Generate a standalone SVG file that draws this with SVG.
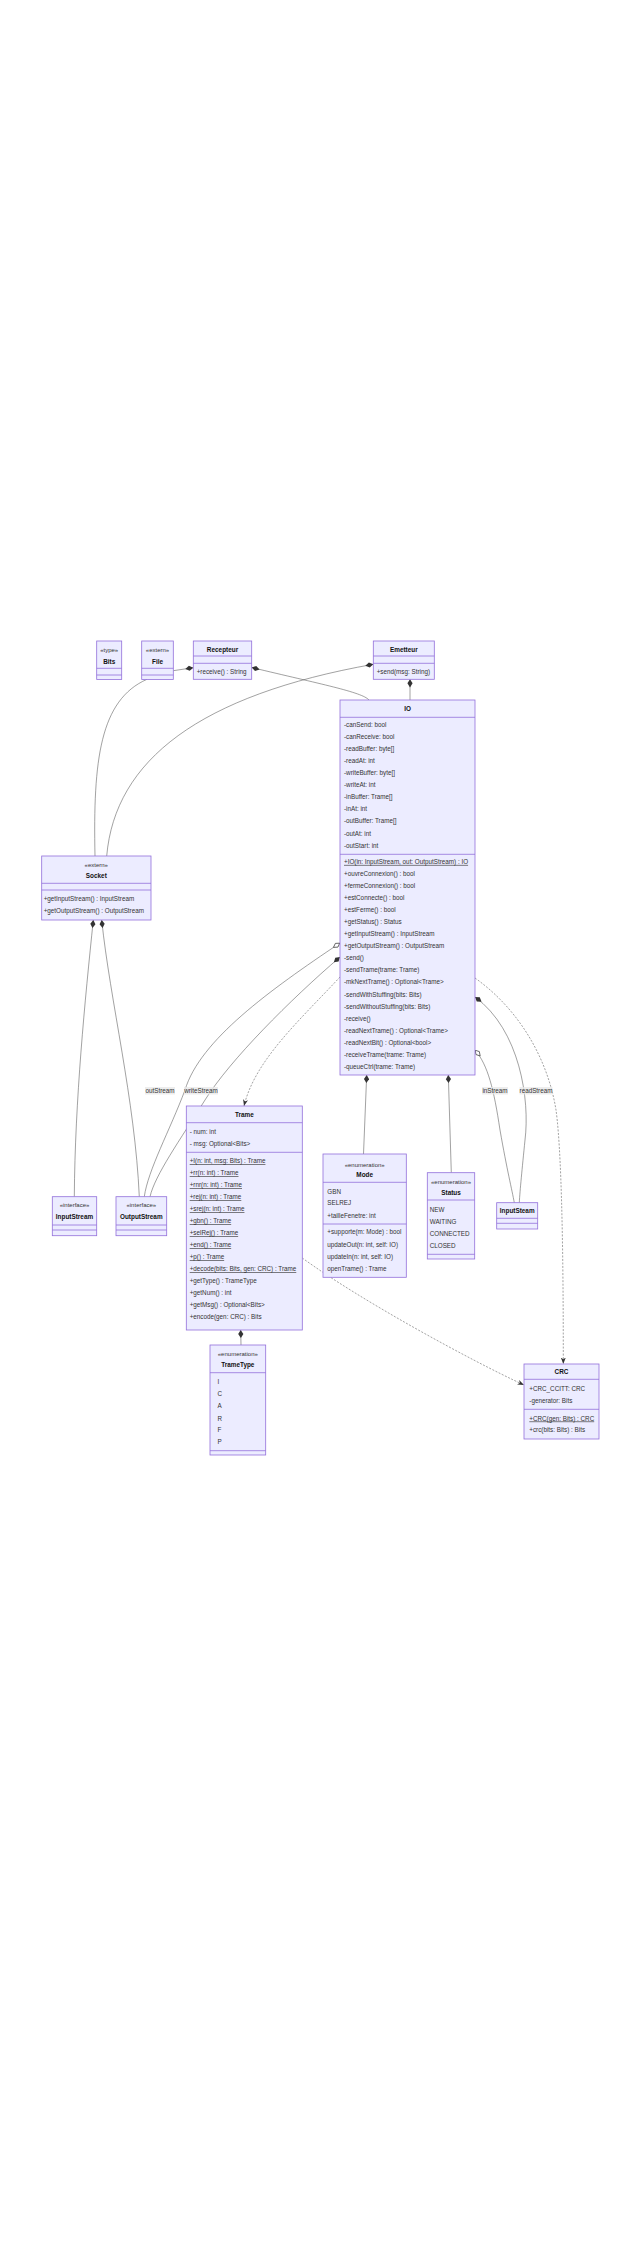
<svg xmlns="http://www.w3.org/2000/svg" width="640" height="2254" viewBox="0 0 640 2254">
<style>
.bg{fill:#fff}
.box{fill:#ECECFF;stroke:#9370DB;stroke-width:0.8}
.dv{stroke:#9370DB;stroke-width:0.8}
text{font-family:"Liberation Sans",Arial,sans-serif;font-size:6.3px;fill:#333}
.h{font-weight:bold;font-size:6.4px;fill:#111;text-anchor:middle}
.s{font-size:6px;text-anchor:middle}
.u{text-decoration:underline}
.e{fill:none;stroke:#555;stroke-width:0.55}
.d{stroke-dasharray:2 1.5}
.lb{fill:#e8e8e8;fill-opacity:0.8}
.lt{text-anchor:middle}
</style>
<defs>
<marker id="comp" markerUnits="userSpaceOnUse" markerWidth="9" markerHeight="6" viewBox="0 0 8 5" refX="0" refY="2.3" orient="auto"><path d="M0,2.3 L3.6,0 L7.2,2.3 L3.6,4.6 Z" fill="#333"/></marker>
<marker id="agg" markerUnits="userSpaceOnUse" markerWidth="9" markerHeight="6" viewBox="0 0 8 5" refX="0" refY="2.3" orient="auto"><path d="M0.3,2.3 L3.6,0.3 L7,2.3 L3.6,4.3 Z" fill="#fff" stroke="#333" stroke-width="0.6"/></marker>
<marker id="dep" markerUnits="userSpaceOnUse" markerWidth="7" markerHeight="6" viewBox="0 0 7 6" refX="6.5" refY="3" orient="auto"><path d="M0,0.5 L6.5,3 L0,5.5 L1.8,3 Z" fill="#333"/></marker>
</defs>
<rect class="bg" x="0" y="0" width="640" height="2254"/>

<g id="connectors">
<path class="e" marker-start="url(#comp)" d="M193.3,667.7 L173.3,670.7"/>
<path class="e" marker-start="url(#comp)" d="M251.7,667.5 C320,684 362,692 369,700"/>
<path class="e" marker-start="url(#comp)" d="M410,679.3 L410,700"/>
<path class="e" marker-start="url(#comp)" d="M373.3,664.3 C200,695 115,760 106.7,856"/>
<path class="e" d="M147,679.3 C100,700 93,760 95,856"/>
<path class="e" marker-start="url(#comp)" d="M93.3,920 C85,1000 75,1100 74.3,1196.7"/>
<path class="e" marker-start="url(#comp)" d="M101.7,920 C110,1000 135,1100 139.3,1196.7"/>
<path class="e" marker-start="url(#agg)" d="M340,943 C270,990 200,1040 185,1090 C170,1130 148,1170 144.3,1196.7"/>
<path class="e" marker-start="url(#comp)" d="M340,957 C290,1000 230,1060 205,1100 C180,1140 155,1175 150,1196.7"/>
<path class="e" marker-start="url(#comp)" d="M475,997 C520,1030 530,1100 525,1140 C522,1170 520,1190 519.3,1202.7"/>
<path class="e" marker-start="url(#agg)" d="M475,1050 C488,1065 494,1090 500,1130 C507,1170 512,1190 514.3,1202.7"/>
<path class="e d" marker-end="url(#dep)" d="M475,978 C520,1010 548,1060 556,1110 C563,1160 563.3,1300 563.3,1364"/>
<path class="e" marker-start="url(#comp)" d="M366.7,1075 L363.5,1154"/>
<path class="e" marker-start="url(#comp)" d="M448.3,1075 L451.3,1172.7"/>
<path class="e" marker-start="url(#comp)" d="M240.7,1330 L241,1345"/>
<path class="e d" marker-end="url(#dep)" d="M340,977 C300,1020 255,1060 244,1106"/>
<path class="e d" marker-end="url(#dep)" d="M302.3,1258 C360,1300 470,1360 524,1385"/>
<rect class="lb" x="145" y="1087" width="30" height="7.5"/>
<text class="lt" x="160" y="1093">outStream</text>
<rect class="lb" x="184" y="1087" width="34" height="7.5"/>
<text class="lt" x="201" y="1093">writeStream</text>
<rect class="lb" x="482" y="1087" width="26" height="7.5"/>
<text class="lt" x="495" y="1093">inStream</text>
<rect class="lb" x="519.5" y="1087" width="33" height="7.5"/>
<text class="lt" x="536" y="1093">readStream</text>
</g>

<g id="Bits">
<rect class="box" x="96.7" y="641" width="25" height="38.5"/>
<line class="dv" x1="96.7" y1="668.3" x2="121.7" y2="668.3"/>
<line class="dv" x1="96.7" y1="675" x2="121.7" y2="675"/>
<text class="s" x="109.2" y="652.2">«type»</text>
<text class="h" x="109.2" y="664">Bits</text>
</g>

<g id="File">
<rect class="box" x="141.7" y="641" width="31.6" height="38.5"/>
<line class="dv" x1="141.7" y1="668.3" x2="173.3" y2="668.3"/>
<line class="dv" x1="141.7" y1="675" x2="173.3" y2="675"/>
<text class="s" x="157.5" y="652.2">«extern»</text>
<text class="h" x="157.5" y="664">File</text>
</g>

<g id="Recepteur">
<rect class="box" x="193.3" y="641" width="58.4" height="38.3"/>
<line class="dv" x1="193.3" y1="656" x2="251.7" y2="656"/>
<line class="dv" x1="193.3" y1="663.3" x2="251.7" y2="663.3"/>
<text class="h" x="222.5" y="652.2">Recepteur</text>
<text x="196.7" y="674">+receive() : String</text>
</g>

<g id="Emetteur">
<rect class="box" x="373.3" y="641" width="61" height="38.3"/>
<line class="dv" x1="373.3" y1="656" x2="434.3" y2="656"/>
<line class="dv" x1="373.3" y1="663.3" x2="434.3" y2="663.3"/>
<text class="h" x="403.8" y="652.2">Emetteur</text>
<text x="376.7" y="674">+send(msg: String)</text>
</g>

<g id="IO">
<rect class="box" x="340" y="700" width="135" height="375"/>
<line class="dv" x1="340" y1="717.3" x2="475" y2="717.3"/>
<line class="dv" x1="340" y1="854.3" x2="475" y2="854.3"/>
<text class="h" x="407.5" y="711.2">IO</text>
<text x="344" y="727.2">-canSend: bool</text>
<text x="344" y="739.2">-canReceive: bool</text>
<text x="344" y="751.3">-readBuffer: byte[]</text>
<text x="344" y="763.3">-readAt: int</text>
<text x="344" y="775.3">-writeBuffer: byte[]</text>
<text x="344" y="787.4">-writeAt: int</text>
<text x="344" y="799.4">-inBuffer: Trame[]</text>
<text x="344" y="811.4">-inAt: int</text>
<text x="344" y="823.4">-outBuffer: Trame[]</text>
<text x="344" y="835.5">-outAt: int</text>
<text x="344" y="847.5">-outStart: int</text>
<text class="u" x="344" y="863.9">+IO(in: InputStream, out: OutputStream) : IO</text>
<text x="344" y="876">+ouvreConnexion() : bool</text>
<text x="344" y="888">+fermeConnexion() : bool</text>
<text x="344" y="900">+estConnecte() : bool</text>
<text x="344" y="912.1">+estFerme() : bool</text>
<text x="344" y="924.2">+getStatus() : Status</text>
<text x="344" y="936.2">+getInputStream() : InputStream</text>
<text x="344" y="948.3">+getOutputStream() : OutputStream</text>
<text x="344" y="960.3">-send()</text>
<text x="344" y="972.4">-sendTrame(trame: Trame)</text>
<text x="344" y="984.4">-mkNextTrame() : Optional&lt;Trame&gt;</text>
<text x="344" y="996.5">-sendWithStuffing(bits: Bits)</text>
<text x="344" y="1008.5">-sendWithoutStuffing(bits: Bits)</text>
<text x="344" y="1020.6">-receive()</text>
<text x="344" y="1032.6">-readNextTrame() : Optional&lt;Trame&gt;</text>
<text x="344" y="1044.7">-readNextBit() : Optional&lt;bool&gt;</text>
<text x="344" y="1056.7">-receiveTrame(trame: Trame)</text>
<text x="344" y="1068.8">-queueCtrl(trame: Trame)</text>
</g>

<g id="Socket">
<rect class="box" x="41.7" y="856" width="109.3" height="64"/>
<line class="dv" x1="41.7" y1="883.3" x2="151" y2="883.3"/>
<line class="dv" x1="41.7" y1="890" x2="151" y2="890"/>
<text class="s" x="96.3" y="867.2">«extern»</text>
<text class="h" x="96.3" y="878.2">Socket</text>
<text x="43.7" y="901.2">+getInputStream() : InputStream</text>
<text x="43.7" y="912.9">+getOutputStream() : OutputStream</text>
</g>

<g id="Trame">
<rect class="box" x="186.3" y="1106" width="116" height="224"/>
<line class="dv" x1="186.3" y1="1122.7" x2="302.3" y2="1122.7"/>
<line class="dv" x1="186.3" y1="1152.3" x2="302.3" y2="1152.3"/>
<text class="h" x="244.3" y="1117.2">Trame</text>
<text x="189.7" y="1134.4">- num: int</text>
<text x="189.7" y="1145.5">- msg: Optional&lt;Bits&gt;</text>
<text class="u" x="189.7" y="1163.2">+I(n: int, msg: Bits) : Trame</text>
<text class="u" x="189.7" y="1175.2">+rr(n: int) : Trame</text>
<text class="u" x="189.7" y="1187.2">+rnr(n: int) : Trame</text>
<text class="u" x="189.7" y="1199.2">+rej(n: int) : Trame</text>
<text class="u" x="189.7" y="1211.2">+srej(n: int) : Trame</text>
<text class="u" x="189.7" y="1223.2">+gbn() : Trame</text>
<text class="u" x="189.7" y="1235.2">+selRej() : Trame</text>
<text class="u" x="189.7" y="1247.2">+end() : Trame</text>
<text class="u" x="189.7" y="1259.2">+p() : Trame</text>
<text class="u" x="189.7" y="1271.2">+decode(bits: Bits, gen: CRC) : Trame</text>
<text x="189.7" y="1283.2">+getType() : TrameType</text>
<text x="189.7" y="1295.2">+getNum() : int</text>
<text x="189.7" y="1307.2">+getMsg() : Optional&lt;Bits&gt;</text>
<text x="189.7" y="1319.2">+encode(gen: CRC) : Bits</text>
</g>

<g id="Mode">
<rect class="box" x="323" y="1154" width="83.3" height="123.3"/>
<line class="dv" x1="323" y1="1182.3" x2="406.3" y2="1182.3"/>
<line class="dv" x1="323" y1="1224" x2="406.3" y2="1224"/>
<text class="s" x="364.7" y="1167.2">«enumeration»</text>
<text class="h" x="364.7" y="1177.2">Mode</text>
<text x="327.3" y="1193.9">GBN</text>
<text x="327.3" y="1204.9">SELREJ</text>
<text x="327.3" y="1217.9">+tailleFenetre: int</text>
<text x="327.3" y="1233.9">+supporte(m: Mode) : bool</text>
<text x="327.3" y="1247.2">updateOut(n: int, self: IO)</text>
<text x="327.3" y="1258.9">updateIn(n: int, self: IO)</text>
<text x="327.3" y="1270.5">openTrame() : Trame</text>
</g>

<g id="Status">
<rect class="box" x="427.3" y="1172.7" width="47.4" height="86.3"/>
<line class="dv" x1="427.3" y1="1200" x2="474.7" y2="1200"/>
<line class="dv" x1="427.3" y1="1254.3" x2="474.7" y2="1254.3"/>
<text class="s" x="451" y="1183.9">«enumeration»</text>
<text class="h" x="451" y="1194.9">Status</text>
<text x="429.7" y="1211.5">NEW</text>
<text x="429.7" y="1223.9">WAITING</text>
<text x="429.7" y="1235.5">CONNECTED</text>
<text x="429.7" y="1247.9">CLOSED</text>
</g>

<g id="InputStream">
<rect class="box" x="52.3" y="1196.7" width="44.4" height="39"/>
<line class="dv" x1="52.3" y1="1225" x2="96.7" y2="1225"/>
<line class="dv" x1="52.3" y1="1230" x2="96.7" y2="1230"/>
<text class="s" x="74.5" y="1207.2">«interface»</text>
<text class="h" x="74.5" y="1218.9">InputStream</text>
</g>

<g id="OutputStream">
<rect class="box" x="116" y="1196.7" width="50.7" height="39"/>
<line class="dv" x1="116" y1="1225" x2="166.7" y2="1225"/>
<line class="dv" x1="116" y1="1230" x2="166.7" y2="1230"/>
<text class="s" x="141.3" y="1207.2">«interface»</text>
<text class="h" x="141.3" y="1218.9">OutputStream</text>
</g>

<g id="InputSteam">
<rect class="box" x="496.7" y="1202.7" width="41" height="26.3"/>
<line class="dv" x1="496.7" y1="1218.3" x2="537.7" y2="1218.3"/>
<line class="dv" x1="496.7" y1="1223.3" x2="537.7" y2="1223.3"/>
<text class="h" x="517.2" y="1212.9">InputSteam</text>
</g>

<g id="TrameType">
<rect class="box" x="210" y="1345" width="55.7" height="110"/>
<line class="dv" x1="210" y1="1372.7" x2="265.7" y2="1372.7"/>
<line class="dv" x1="210" y1="1450.7" x2="265.7" y2="1450.7"/>
<text class="s" x="237.8" y="1356.2">«enumeration»</text>
<text class="h" x="237.8" y="1367.2">TrameType</text>
<text x="217.5" y="1383.9">I</text>
<text x="217.5" y="1396.2">C</text>
<text x="217.5" y="1408.2">A</text>
<text x="217.5" y="1420.5">R</text>
<text x="217.5" y="1432.2">F</text>
<text x="217.5" y="1443.9">P</text>
</g>

<g id="CRC">
<rect class="box" x="524" y="1364" width="75" height="75"/>
<line class="dv" x1="524" y1="1379.3" x2="599" y2="1379.3"/>
<line class="dv" x1="524" y1="1409.3" x2="599" y2="1409.3"/>
<text class="h" x="561.5" y="1373.9">CRC</text>
<text x="529.3" y="1391.2">+CRC_CCITT: CRC</text>
<text x="529.3" y="1402.9">-generator: Bits</text>
<text class="u" x="529.3" y="1420.5">+CRC(gen: Bits) : CRC</text>
<text x="529.3" y="1432.2">+crc(bits: Bits) : Bits</text>
</g>
</svg>
